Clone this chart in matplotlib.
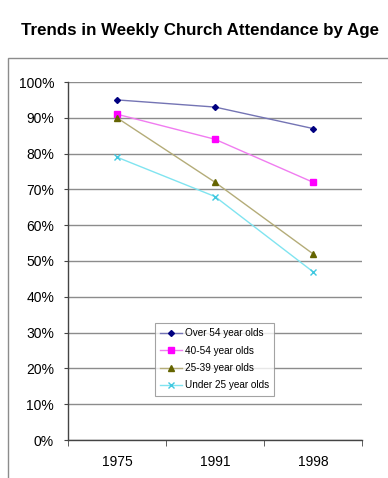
import numpy as np
import matplotlib
matplotlib.use('Agg')
import matplotlib.pyplot as plt
from matplotlib.patches import Rectangle
from matplotlib.ticker import PercentFormatter

# 数据
years = ['1975', '1991', '1998']
over54 = [95, 93, 87]
age40_54 = [91, 84, 72]
age25_39 = [90, 72, 52]
under25 = [79, 68, 47]
series_names = ['Over 54 year olds', '40-54 year olds', '25-39 year olds', 'Under 25 year olds']

plt.rcParams['font.family'] = ['Liberation Sans', 'DejaVu Sans']

fig = plt.figure(figsize=(3.88, 4.78), dpi=100)
W, H = 388, 478

# 外框
fig.patches.append(Rectangle((8 / W, -0.05), 1.0, (H - 58) / H + 0.05,
                             transform=fig.transFigure, fill=False,
                             edgecolor='#8c8c8c', linewidth=1.0))

fig.text(21 / W, 1 - 30 / H, 'Trends in Weekly Church Attendance by Age',
         fontsize=12.2, fontweight='black', ha='left', va='center')

ax = fig.add_axes([68 / W, 1 - 440 / H, (362 - 68) / W, (440 - 82) / H])

x = np.arange(len(years))
styles = [
    (over54, '#7474b4', '#000080', 'D', 3),
    (age40_54, '#f07cf0', '#ff00ff', 's', 4.5),
    (age25_39, '#b4ac78', '#646400', '^', 4),
    (under25, '#80e4f0', '#40c8e0', 'x', 4),
]
for (vals, lc, mc, mk, ms), name in zip(styles, series_names):
    ax.plot(x, vals, color=lc, linewidth=1.0, marker=mk, markersize=ms,
            markerfacecolor=mc, markeredgecolor=mc, label=name)

ax.set_xlim(-0.5, 2.5)
ax.set_ylim(0, 100)
ax.set_yticks(np.arange(0, 101, 10))
ax.yaxis.set_major_formatter(PercentFormatter(decimals=0))
ax.set_xticks(x)
ax.set_xticklabels(years)
ax.set_xticks([-0.5, 0.5, 1.5, 2.5], minor=True)
ax.tick_params(axis='x', which='major', length=0, pad=11, labelsize=10)
ax.tick_params(axis='x', which='minor', length=4, direction='out', color='#444444')
ax.tick_params(axis='y', length=3, direction='out', labelsize=10, pad=7, color='#444444')
ax.grid(axis='y', color='#8c8c8c', linewidth=1.0)
ax.set_axisbelow(True)
for s in ['top', 'right']:
    ax.spines[s].set_visible(False)
for s in ['left', 'bottom']:
    ax.spines[s].set_color('#444444')
    ax.spines[s].set_linewidth(1.0)

leg = ax.legend(loc='upper left', bbox_to_anchor=((150 - 68) / 294, (440 - 318) / 358),
                fontsize=7.2, frameon=True, fancybox=False, borderpad=0.5,
                labelspacing=0.75, handlelength=2.2, handletextpad=0.3)
leg.get_frame().set_edgecolor('#8c8c8c')
leg.get_frame().set_linewidth(0.8)

fig.savefig('out.png', dpi=100)
